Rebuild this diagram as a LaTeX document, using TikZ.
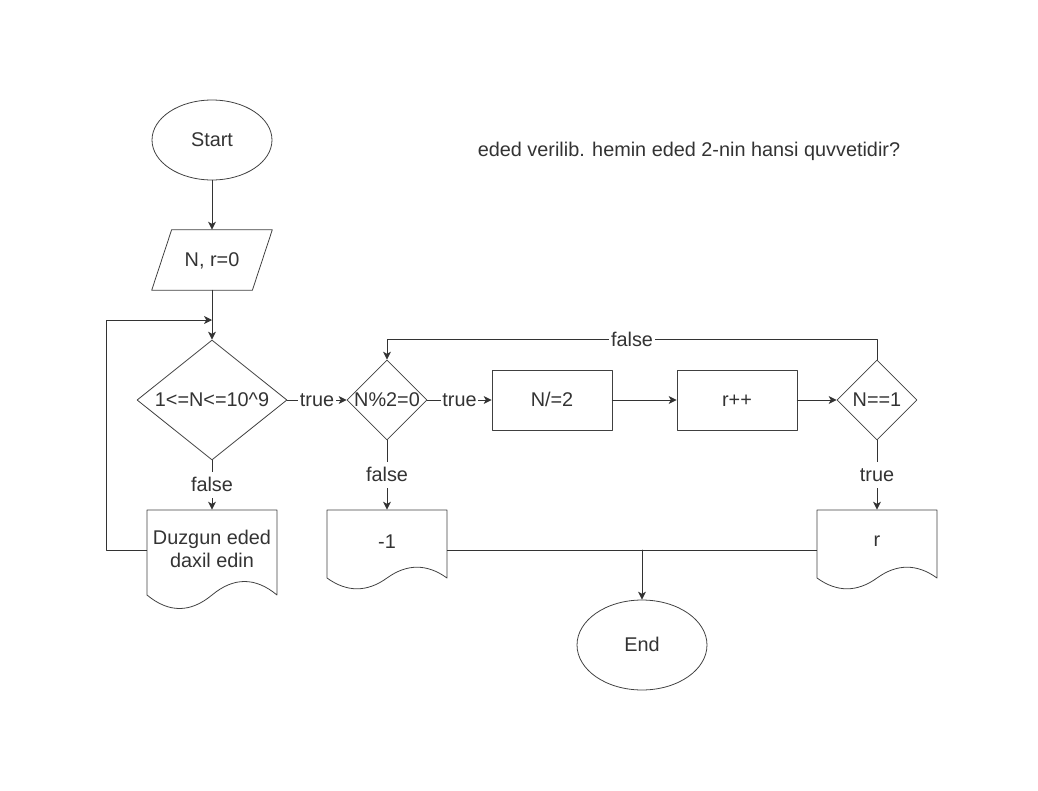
\documentclass[tikz,border=0pt]{standalone}
\usepackage{fontspec}
\setmainfont{Liberation Sans}
\usepackage{tikz}
\definecolor{edge}{RGB}{51,51,51}
\usetikzlibrary{arrows.meta,shapes.geometric,calc}
\tikzset{
  every node/.style={font=\fontsize{11.3}{13}\selectfont, text=edge},
  oneline/.style={text height=10.2pt, text depth=2.4pt},
  shapeline/.style={draw=black!75, line width=0.45pt},
  term/.style={ellipse, shapeline, oneline, minimum width=2.4cm, minimum height=1.6cm, inner sep=0pt},
  iobox/.style={rectangle, oneline, minimum width=2.4cm, minimum height=1.2cm, inner sep=0pt},
  proc/.style={rectangle, shapeline, oneline, minimum width=2.4cm, minimum height=1.2cm, inner sep=0pt},
  cond/.style={diamond, shapeline, oneline, minimum width=1.6cm, minimum height=1.6cm, inner sep=0pt},
  docbox/.style={rectangle, inner sep=0pt},
  arr/.style={draw=edge, line width=0.5pt, -{Stealth[length=4.5pt, width=4.5pt, inset=1.2pt]}},
  link/.style={draw=edge, line width=0.5pt},
  lbl/.style={fill=white, oneline, inner sep=1pt}
}
% document box with wavy bottom: name, left, top, width, height, text
\newcommand{\docshape}[6]{%
  \node[docbox, minimum width={#4*0.02cm}, minimum height={#5*0.02cm}] (#1) at ({#2+#4/2},{#3+#5/2}) {};
  \draw[shapeline] (#2,#3) -- ({#2+#4},#3) -- ({#2+#4},{#3+0.85*#5})
    .. controls ({#2+5*#4/6},{#3+0.67*#5}) and ({#2+2*#4/3},{#3+0.67*#5}) .. ({#2+#4/2},{#3+0.85*#5})
    .. controls ({#2+#4/3},{#3+1.03*#5}) and ({#2+#4/6},{#3+1.03*#5}) .. (#2,{#3+0.85*#5}) -- cycle;
  \node[align=center] (#1txt) at ({#2+#4/2},{#3+0.39*#5}) {#6};
}

\begin{document}
\begin{tikzpicture}[x=0.02cm, y=-0.02cm, line cap=round, line join=round]
	\useasboundingbox (0,0) rectangle (1038,791);
	\node[term] (start) at (212,140) {Start};
	\node[iobox] (inp) at (212,260) {N, r=0};
	\draw[shapeline] ($(inp.north west)+(20,0)$) -- (inp.north east) -- ($(inp.south east)+(-20,0)$) -- (inp.south west) -- cycle;
	\node[cond, minimum width=3cm, minimum height=2.4cm] (rng) at (212,400) {\makebox[0pt]{1<=N<=10\textasciicircum 9}};
	\node[cond] (even) at (387,400) {\makebox[0pt]{N\%2=0}};
	\node[proc] (half) at (552,400) {N/=2};
	\node[proc] (inc) at (737,400) {r++};
	\node[cond] (one) at (877,400) {\makebox[0pt]{N==1}};
	\docshape{msg}{147}{510}{130}{100}{Duzgun eded\\daxil edin}
	\docshape{neg}{327}{510}{120}{80}{-1}
	\docshape{res}{817}{510}{120}{80}{r}
	\node[term, minimum width=2.6cm, minimum height=1.8cm] (end) at (642,645) {End};
	\node[oneline] (task) at (689,150) {eded verilib. hemin eded 2-nin hansi quvvetidir?};
	\coordinate (back) at (212,320);

	\draw[arr] (start) -- (inp);
	\draw[arr] (inp) -- (rng);
	\draw[arr] ($(msg.west)+(0,-10)$) -- ++(-40,0) |- (back);
	\draw[arr] (rng) -- node[lbl] {false} (msg);
	\draw[arr] (rng) -- node[lbl] {true} (even);
	\draw[arr] (even) -- node[lbl] {true} (half);
	\draw[arr] (even) -- node[lbl] {false} (neg);
	\draw[arr] (half) -- (inc);
	\draw[arr] (inc) -- (one);
	\draw[arr] (one.north) -- ++(0,-20) -| node[lbl, pos=0.25] {false} (even.north);
	\draw[arr] (one) -- node[lbl] {true} (res);
	\draw[link] (neg.east) -- (res.west);
	\draw[arr] (neg.east -| end.north) -- (end.north);
\end{tikzpicture}
\end{document}
